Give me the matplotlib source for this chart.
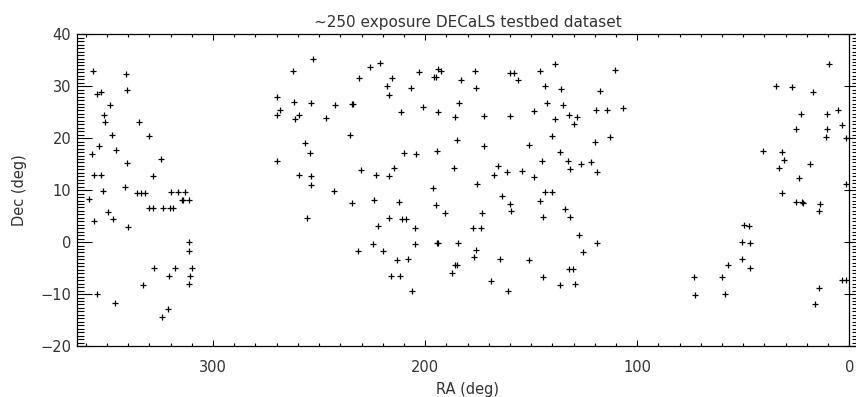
import numpy as np
import matplotlib
matplotlib.use('Agg')
import matplotlib.pyplot as plt
from matplotlib.ticker import MultipleLocator


### Exposure centres (RA, Dec in degrees)

# Western block, RA 310 - 360
ra_west = [356.7, 341.2, 354.6, 353.0, 340.7, 348.6, 351.4, 350.9, 335.1, 347.5,
           330.0, 353.8, 345.6, 356.9, 340.7, 324.7, 356.3, 352.8, 328.3, 351.7,
           341.4, 335.7, 333.8, 331.9, 319.8, 316.7, 313.2, 358.6, 314.5, 314.0,
           311.2, 349.5, 347.3, 356.0, 340.2, 330.3, 328.4, 323.7, 320.3, 319.0,
           311.2, 311.5, 328.0, 318.0, 310.0, 320.6, 311.0, 311.2, 333.2, 354.6,
           346.2, 321.4, 324.2]
dec_west = [33.0, 32.4, 28.5, 28.9, 29.2, 26.3, 24.5, 23.2, 23.2, 20.6,
            20.5, 18.5, 17.8, 17.0, 15.2, 16.0, 12.9, 13.0, 12.7, 9.9,
            10.6, 9.4, 9.4, 9.4, 9.6, 9.6, 9.6, 8.3, 8.1, 8.1,
            8.1, 5.7, 4.4, 4.1, 2.9, 6.5, 6.5, 6.5, 6.5, 6.5,
            0.1, -1.7, -4.9, -5.0, -5.0, -6.6, -6.6, -8.1, -8.3, -10.0,
            -11.8, -12.8, -14.4]

# Central block, RA 105 - 270
ra_mid = [252.7, 262.3, 226.1, 221.2, 231.0, 215.4, 203.0, 193.9, 192.3, 195.8,
          194.8, 217.8, 206.6, 216.8, 270.0, 261.7, 253.9, 242.3, 234.6, 234.2,
          268.2, 269.8, 259.6, 261.2, 246.8, 211.3, 200.8, 193.7, 235.2, 256.7,
          254.1, 269.8, 209.8, 204.1, 194.3, 259.6, 253.8, 230.2, 223.1, 217.0,
          214.6, 253.9, 196.4,
          243.2, 234.4, 224.1, 212.4, 194.8, 190.4, 255.7, 216.8, 210.8, 209.0,
          222.3, 204.6, 224.4, 204.6, 194.2, 193.7, 231.5, 220.0, 213.2, 208.2,
          216.2, 211.7, 206.0,
          182.9, 176.3, 175.8, 159.8, 157.9, 156.0, 145.6, 138.8, 143.7, 135.8,
          110.5, 117.3, 184.1, 185.8, 172.3, 160.2, 148.6, 142.6, 135.2, 138.8,
          132.2, 128.3, 129.9, 119.5, 114.0, 106.7, 185.0, 172.3, 151.1, 140.1,
          119.8, 112.9, 136.3, 186.5, 165.7, 167.3, 161.3, 154.2, 148.7, 144.8,
          132.5, 126.6, 131.9, 121.8, 119.0, 175.3,
          163.8, 160.0, 159.3, 143.7, 140.1, 145.9, 144.5, 134.1, 131.5, 173.3,
          177.4, 173.6, 184.4, 176.1, 176.9, 164.6, 150.8, 127.4, 118.9, 125.5,
          185.8, 185.0, 187.1, 168.7, 160.8, 144.2, 136.3, 129.1, 132.2, 130.2]
dec_mid = [35.2, 33.0, 33.8, 34.5, 31.6, 31.5, 32.7, 33.3, 32.9, 31.7,
           31.8, 30.0, 29.7, 28.3, 28.0, 27.0, 26.7, 26.4, 26.6, 26.5,
           25.5, 24.5, 24.4, 23.6, 23.8, 25.1, 26.0, 25.0, 20.6, 19.0,
           17.2, 15.7, 17.1, 16.9, 17.5, 12.9, 12.8, 13.8, 12.9, 12.7,
           14.2, 10.9, 10.5,
           9.8, 7.6, 8.1, 7.7, 7.2, 5.6, 4.6, 4.6, 4.5, 4.5,
           3.1, 2.8, -0.3, -0.3, -0.2, -0.1, -1.8, -1.8, -3.5, -3.3,
           -6.5, -6.5, -9.5,
           31.2, 32.9, 29.6, 32.5, 32.6, 31.2, 33.0, 34.3, 30.0, 29.5,
           33.2, 29.0, 26.7, 24.1, 24.3, 24.3, 25.2, 26.7, 26.3, 23.6,
           24.5, 24.0, 22.7, 25.4, 25.4, 25.8, 19.7, 18.5, 18.7, 20.5,
           19.3, 20.3, 17.4, 14.2, 14.7, 13.0, 13.5, 13.7, 12.5, 15.7,
           15.6, 15.1, 14.0, 15.5, 13.5, 11.1,
           8.8, 7.4, 5.9, 9.6, 9.6, 7.9, 4.8, 6.3, 4.8, 5.6,
           2.7, 2.7, -0.1, -1.5, -2.9, -3.2, -3.4, 1.4, -0.1, -1.9,
           -4.4, -4.4, -5.9, -7.5, -9.4, -6.7, -8.2, -8.1, -5.2, -5.2]

# Eastern block, RA 0 - 75
ra_east = [9.6, 34.4, 27.1, 17.3, 5.2, 22.6, 10.5, 3.2, 25.1, 10.3,
           10.8, 1.3, 40.6, 31.8, 30.7, 33.1, 18.3, 23.5, 1.4, 31.8,
           25.3, 22.3, 21.8, 13.7, 14.1, 49.4, 47.1, 50.8, 46.9, 50.8,
           57.2, 46.7, 73.1, 59.9, 72.6, 58.5, 3.4, 1.7, 14.3, 16.2]
dec_east = [34.3, 30.1, 29.8, 28.8, 25.5, 24.7, 24.7, 22.6, 21.7, 21.8,
            20.3, 20.1, 17.5, 17.3, 15.8, 14.3, 15.0, 12.3, 11.2, 9.4,
            7.7, 7.7, 7.6, 7.4, 5.9, 3.2, 3.1, 0.1, -0.1, -3.3,
            -4.5, -5.0, -6.7, -6.8, -10.2, -9.9, -7.2, -7.2, -8.9, -11.9]

ra = np.array(ra_west + ra_mid + ra_east)
dec = np.array(dec_west + dec_mid + dec_east)

title = '~250 exposure DECaLS testbed dataset'
x_ticks = [300, 200, 100, 0]
y_ticks = [-20, -10, 0, 10, 20, 30, 40]


### Plot

text_col = '#333333'
plt.rcParams['font.family'] = 'DejaVu Sans'

fig = plt.figure(figsize=(8.56, 3.97), dpi=100)
# the right frame sits just past the edge of the picture, as in the original
axs = fig.add_axes([76.7 / 856, 1 - 346.0 / 397, (859.0 - 76.7) / 856, (346.0 - 34.3) / 397])

axs.plot(ra, dec, linestyle='none', marker='+', markersize=5, markeredgewidth=0.9, color='black')
axs.axvline(0, color='black', linewidth=0.9)

axs.set_xlim(364.3, -4.6)
axs.set_ylim(-20, 40)
axs.set_xticks(x_ticks)
axs.set_yticks(y_ticks)
axs.xaxis.set_minor_locator(MultipleLocator(10))
axs.yaxis.set_minor_locator(MultipleLocator(10. / 15.))

axs.tick_params(axis='both', which='both', direction='in', top=True, right=True,
                width=0.8, colors='black', labelcolor=text_col, labelsize=10.5)
axs.tick_params(axis='x', which='major', length=4.3, pad=10)
axs.tick_params(axis='x', which='minor', length=2.2)
axs.tick_params(axis='y', which='major', length=10.8, pad=4)
axs.tick_params(axis='y', which='minor', length=5.0)
for s in axs.spines.values():
   s.set_linewidth(0.9)

axs.set_title(title, fontsize=11, color=text_col, pad=5)
axs.set_xlabel('RA (deg)', fontsize=10.5, color=text_col)
axs.set_ylabel('Dec (deg)', fontsize=10.5, color=text_col)
axs.xaxis.label.set_va('center')
axs.xaxis.set_label_coords(0.5, -0.139)
axs.yaxis.label.set_va('center')
axs.yaxis.set_label_coords(-0.0725, 0.5)

fig.savefig('out.png', dpi=100)
plt.close()
